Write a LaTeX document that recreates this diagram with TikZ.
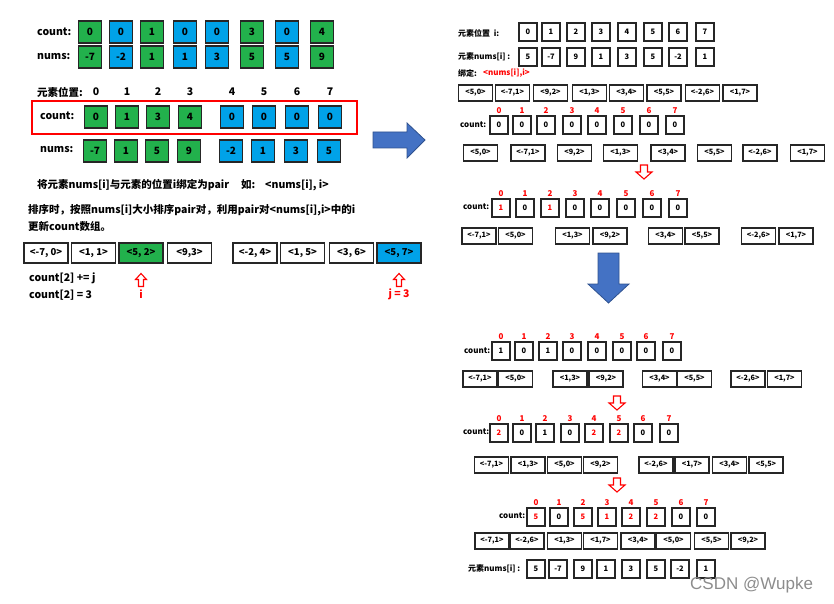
\documentclass[tikz,border=0pt]{standalone}
\usepackage{fontspec}
\setmainfont{Noto Sans CJK SC}
\newfontfamily\wmfont{Liberation Sans}
\usetikzlibrary{positioning}
\definecolor{cgreen}{RGB}{34,177,76}
\definecolor{cblue}{RGB}{0,162,232}
\definecolor{arrblue}{RGB}{68,114,196}
\definecolor{arredge}{RGB}{47,82,143}
\tikzset{
  bigcell/.style={draw=black!85, line width=1.6pt, minimum width=23pt, minimum height=22pt, inner sep=0pt, font=\bfseries\fontsize{10}{10}\selectfont},
  cell/.style={draw=black!85, line width=1.2pt, minimum size=18pt, inner sep=0pt, font=\bfseries\fontsize{7.5}{7.5}\selectfont},
  pairbig/.style={draw=black!85, line width=1.4pt, minimum width=44pt, minimum height=20pt, inner sep=0pt, font=\bfseries\fontsize{9.5}{9.5}\selectfont},
  pair/.style={draw=black!85, line width=1.2pt, minimum width=34pt, minimum height=16pt, inner sep=0pt, font=\bfseries\fontsize{7.3}{7.3}\selectfont},
  lbl/.style={anchor=west, inner sep=0pt, font=\bfseries\fontsize{10.5}{10.5}\selectfont},
  slbl/.style={anchor=west, inner sep=0pt, font=\bfseries\fontsize{8}{8}\selectfont},
  idx/.style={text=red, inner sep=0.5pt, font=\bfseries\fontsize{8}{8}\selectfont},
  barrow/.style={fill=arrblue, draw=arredge, line width=0.8pt},
  hdown/.pic={\draw[red, line width=1.1pt] (-3.5,-7) -- (3.5,-7) -- (3.5,0) -- (8,0) -- (0,7) -- (-8,0) -- (-3.5,0) -- cycle;},
  hup/.pic={\draw[red, line width=1.1pt] (0,-6.5) -- (5.5,-0.5) -- (2.5,-0.5) -- (2.5,6.5) -- (-2.5,6.5) -- (-2.5,-0.5) -- (-5.5,-0.5) -- cycle;}
}
\begin{document}
\begin{tikzpicture}[x=1pt, y=-1pt]
\useasboundingbox (0,0) rectangle (834,604);

\node[lbl] (cntlbl) at (37,32) {count:};
\node[lbl] (numlbl) at (37,57) {nums:};
\foreach \x/\c/\v/\n [count=\k from 0] in {90/cgreen/0/-7, 121/cblue/0/-2, 152/cgreen/1/1, 185/cblue/0/1, 217/cblue/0/3, 252/cgreen/3/5, 287/cblue/0/5, 322/cgreen/4/9}{
  \node[bigcell, fill=\c] (tc\k) at (\x,32) {\v};
  \node[bigcell, fill=\c] (tn\k) at (\x,57) {\n};
}

\node[lbl] (poslbl) at (37,92) {元素位置:};
\draw[red, line width=1.4pt] (32,101) rectangle (357,134);
\node[lbl] (cnt2lbl) at (40,116) {count:};
\node[lbl] (num2lbl) at (40,150) {nums:};
\foreach \x/\c/\v/\n [count=\k from 0] in {96/cgreen/0/-7, 127/cgreen/1/1, 158/cgreen/3/5, 190/cgreen/4/9, 232/cblue/0/-2, 264/cblue/0/1, 297/cblue/0/3, 330/cblue/0/5}{
  \node[lbl, anchor=center] (mp\k) at (\x,92) {\k};
  \node[bigcell, fill=\c] (mc\k) at (\x,117) {\v};
  \node[bigcell, fill=\c] (mn\k) at (\x-1,151) {\n};
}

\draw[barrow] (373,132) -- (407,132) -- (407,123) -- (425,140) -- (407,158) -- (407,148) -- (373,148) -- cycle;

\node[lbl] (bind) at (37,185) {将元素nums[i]与元素的位置i绑定为pair};
\node[lbl] (eg) at (241,185) {如:};
\node[lbl] (egpair) at (265,185) {<nums[i], i>};
\node[lbl] (sort1) at (28,210) {排序时，按照nums[i]大小排序pair对，利用pair对<nums[i],i>中的i};
\node[lbl] (sort2) at (28,227) {更新count数组。};

\foreach \x/\t/\c [count=\k from 0] in {46/{<-7, 0>}/white, 93.5/{<1, 1>}/white, 141/{<5, 2>}/cgreen, 189.5/{<9,3>}/white, 255/{<-2, 4>}/white, 302.5/{<1, 5>}/white, 351.5/{<3, 6>}/white, 399/{<5, 7>}/cblue}
  \node[pairbig, fill=\c] (lp\k) at (\x,253) {\t};

\node[lbl] (upd1) at (29,278) {count[2] += j};
\node[lbl] (upd2) at (29,295) {count[2] = 3};
\pic at (141,280) {hup};
\node[lbl, anchor=center, text=red] (ilbl) at (141,294) {i};
\pic at (399,280) {hup};
\node[lbl, anchor=center, text=red] (jlbl) at (399,294) {j = 3};

\node[slbl] (rilbl) at (458,33) {元素位置\ \ i:};
\node[slbl] (rnlbl) at (458,57) {元素nums[i] :};
\foreach \x/\n [count=\k from 0] in {528/5, 551/-7, 576/9, 601/1, 627/3, 653/5, 678/-2, 705/1}{
  \node[cell] (ri\k) at (\x,32) {\k};
  \node[cell] (rn\k) at (\x,57) {\n};
}
\node[slbl] (bdlbl) at (458,73) {绑定:};
\node[slbl, text=red] (bdpair) at (483,73) {<nums[i],i>};

\foreach \x/\t [count=\k from 0] in {475.5/{<5,0>}, 512.5/{<-7,1>}, 550.5/{<9,2>}, 589.5/{<1,3>}, 626.5/{<3,4>}, 664/{<5,5>}, 702.5/{<-2,6>}, 740/{<1,7>}}
  \node[pair] (pa\k) at (\x,93) {\t};

\node[slbl] (calbl) at (460,125) {count:};
\foreach \x [count=\k from 0] in {499,522,546,572,597,623,649,675}{
  \node[cell] (ca\k) at (\x,125) {0};
  \node[idx, above=1pt of ca\k] (ia\k) {\k};
}
\foreach \x/\t [count=\k from 0] in {480.5/{<5,0>}, 528/{<-7,1>}, 574.5/{<9,2>}, 620.5/{<1,3>}, 668/{<3,4>}, 714.5/{<5,5>}, 760/{<-2,6>}, 807.5/{<1,7>}}
  \node[pair] (pb\k) at (\x,153) {\t};

\pic at (644,172) {hdown};

\node[slbl] (cblbl) at (463,207) {count:};
\foreach \x/\v [count=\k from 0] in {501/{\color{red}1}, 525/0, 550/{\color{red}1}, 575/0, 600/0, 626/0, 652/0, 678/0}{
  \node[cell] (cb\k) at (\x,208) {\v};
  \node[idx, above=1pt of cb\k] (ib\k) {\k};
}
\foreach \x/\t [count=\k from 0] in {479/{<-7,1>}, 515.5/{<5,0>}, 572.5/{<1,3>}, 610/{<9,2>}, 665.5/{<3,4>}, 702/{<5,5>}, 758.5/{<-2,6>}, 796/{<1,7>}}
  \node[pair] (pc\k) at (\x,236) {\t};

\draw[barrow] (598,253) -- (619,253) -- (619,284) -- (629,284) -- (608.5,303) -- (588,284) -- (598,284) -- cycle;

\node[slbl] (cclbl) at (464,351) {count:};
\foreach \x/\v [count=\k from 0] in {501/1, 524/0, 548/1, 572/0, 597/0, 622/0, 646/0, 672/0}{
  \node[cell] (cc\k) at (\x,351) {\v};
  \node[idx, above=1pt of cc\k] (ic\k) {\k};
}
\foreach \x/\t [count=\k from 0] in {480/{<-7,1>}, 515.5/{<5,0>}, 570/{<1,3>}, 606/{<9,2>}, 659.5/{<3,4>}, 694.5/{<5,5>}, 748/{<-2,6>}, 784.5/{<1,7>}}
  \node[pair] (pd\k) at (\x,379) {\t};

\pic at (617,403) {hdown};

\node[slbl] (cdlbl) at (463,432) {count:};
\foreach \x/\v [count=\k from 0] in {499/{\color{red}2}, 522/0, 545/1, 570/0, 594/{\color{red}2}, 619/{\color{red}2}, 643/0, 669/0}{
  \node[cell] (cd\k) at (\x,433) {\v};
  \node[idx, above=1pt of cd\k] (id\k) {\k};
}
\foreach \x/\t [count=\k from 0] in {491.5/{<-7,1>}, 528/{<1,3>}, 564.5/{<5,0>}, 600.5/{<9,2>}, 656/{<-2,6>}, 692/{<1,7>}, 729.5/{<3,4>}, 766/{<5,5>}}
  \node[pair] (pe\k) at (\x,465) {\t};

\pic at (617,485) {hdown};

\node[slbl] (celbl) at (499,516) {count:};
\foreach \x/\v [count=\k from 0] in {536/{\color{red}5}, 559/0, 583/{\color{red}5}, 607/{\color{red}1}, 631/{\color{red}2}, 656/{\color{red}2}, 681/0, 706/0}{
  \node[cell] (ce\k) at (\x,517) {\v};
  \node[idx, above=1pt of ce\k] (ie\k) {\k};
}
\foreach \x/\t [count=\k from 0] in {492/{<-7,1>}, 527/{<-2,6>}, 564.5/{<1,3>}, 600.5/{<1,7>}, 638/{<3,4>}, 673.5/{<5,0>}, 711.5/{<5,5>}, 748/{<9,2>}}
  \node[pair] (pf\k) at (\x,541) {\t};

\node[slbl] (fnlbl) at (468,569) {元素nums[i] :};
\foreach \x/\n [count=\k from 0] in {536/5, 558/-7, 583/9, 606/1, 631/3, 656/5, 680/-2, 706/1}
  \node[cell] (fn\k) at (\x,569) {\n};

\node[anchor=west, inner sep=0pt, text=black!45, font=\wmfont\fontsize{17}{17}\selectfont] (wm) at (690,585) {CSDN @Wupke};
\end{tikzpicture}
\end{document}
